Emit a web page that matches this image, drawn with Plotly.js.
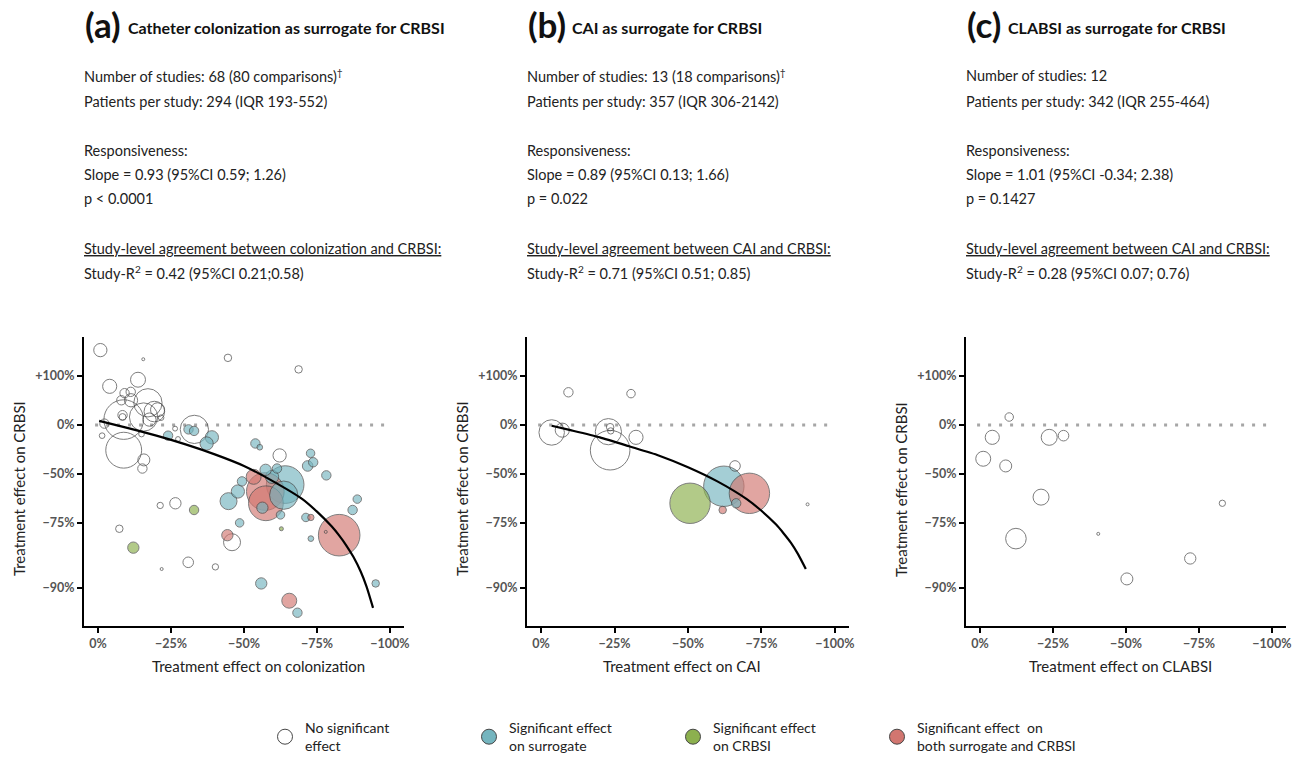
<!DOCTYPE html>
<html>
<head>
<meta charset="utf-8">
<script src="https://cdn.plot.ly/plotly-3.0.1.min.js"></script>
<style>html,body{margin:0;padding:0;background:#fff;overflow:hidden;}#chart{width:1304px;height:757px;}</style>
</head>
<body>
<div id="chart"></div>
<script>
// ---------- DATA ----------
// effect on surrogate (%), effect on CRBSI (%), relative study weight, significance group
// groups: 0 = no significant effect, 1 = significant on surrogate, 2 = significant on CRBSI, 3 = both
const aX = [-0.8,-15.5,-44.5,-68.7,-4,-13.7,-9.1,-11.2,-8,-11.3,-17.1,-8.8,-8.4,-8.4,-15.6,-19.3,-20.4,-17.6,-21.6,-2.2,-1.4,-14.9,-8.8,-15.7,-15.2,-26.4,-27.4,-33,-31,-32.9,-24,-39,-37.2,-53.9,-55.4,-62.2,-72.8,-73.7,-71.8,-78.2,-57.4,-61.3,-53.3,-59.6,-64.1,-63.6,-49.3,-47.9,-44.7,-57.3,-57.5,-56.3,-62.5,-71.2,-72.9,-48.5,-62.8,-72.9,-44.3,-45.9,-82.6,-78,-88.8,-87.2,-95.1,-21.3,-26.5,-32.9,-7.3,-12.1,-21.8,-30.9,-40.2,-55.9,-65.5,-68.3];
const aY = [189,154,159,120,73,90,57,60,42,42,37,8,15,12,12,21,24,8,11,2,-14,-12,-30,-39,-46,-5,-18,-6,-6,-8,-14,-16,-23,-23,-27,-35,-33,-41,-44,-51,-47,-46,-52,-52,-57,-63,-55,-61,-66,-61,-67,-69,-72,-73,-73,-75,-77,-80,-79,-81,-79,-78,-65,-70,-89.4,-68,-67,-70,-77,-82.4,-87,-85.7,-86.6,-89.4,-91.7,-93];
const aW = [22,1,7,7,25,28,11,11,11,22,100,196,11,6,100,53,25,22,4,11,4,4,161,18,11,3,3,100,11,11,11,22,22,11,4,22,9,11,14,11,16,11,28,22,177,100,11,22,36,177,151,16,9,9,5,9,2,4,16,36,216,0.7,9,11,7,5,16,11,7,16,0.7,14,5,16,28,11];
const aG = [0,0,0,0,0,0,0,0,0,0,0,0,0,0,0,0,0,0,0,0,0,0,0,0,0,0,0,0,1,1,1,1,1,1,1,0,1,1,1,1,1,1,3,1,1,1,1,1,1,3,3,1,1,1,3,1,2,1,3,0,3,0,1,1,1,0,0,2,0,2,0,0,0,1,3,1];

const bX = [-9.3,-30.6,-3.6,-7.2,-22.9,-23.5,-23.7,-23.5,-32.3,-66,-62.2,-70.9,-50.7,-66.4,-61.8,-90.7];
const bY = [59,56,-10,-7,-9,-3,-8,-30,-16,-44,-58,-62,-67,-67,-70,-67.5];
const bW = [11,9,81,25,86,7,5,196,25,14,204,204,204,11,7,0.7];
const bG = [0,0,0,0,0,0,0,0,0,0,1,3,2,1,3,0];

const cX = [-10,-4.2,-23.7,-28.6,-1.1,-8.8,-20.9,-12.3,-40.5,-50.3,-72,-83];
const cY = [12,-16,-16,-14,-38,-44,-64,-80,-78.6,-88.7,-84.9,-67];
const cW = [9,25,32,14,28,18,32,53,0.7,18,16,5];
const cG = [0,0,0,0,0,0,0,0,0,0,0,0];

// regression curves
const aCurveX = [-0.4,-10,-20,-30,-40,-50,-60,-70,-75,-80,-82.5,-85,-87.5,-90,-92,-94.2];
const aCurveY = [6,-4,-14,-24,-34,-44,-55,-65,-70.7,-76.2,-79,-81.8,-84.6,-87.5,-89.9,-92.5];
const bCurveX = [-3.6,-10,-20,-30,-40,-50,-60,-70,-75,-80,-82.5,-85,-87.5,-90.1];
const bCurveY = [-1,-7,-16,-26,-35,-45,-55,-65,-70.3,-75.6,-78.4,-81.1,-84,-87];

const xTickVals = [0,-25,-50,-75,-100];
const xTickText = ['0%','\u221225%','\u221250%','\u221275%','\u2212100%'];
const yTickVals = [100,0,-50,-75,-90];
const yTickText = ['+100%','0%','\u221250%','\u221275%','\u221290%'];

const groupNames = ['No significant<br>effect','Significant effect<br>on surrogate','Significant effect<br>on CRBSI','Significant effect  on<br>both surrogate and CRBSI'];

const panelLabels = ['(a)','(b)','(c)'];
const panelTitles = ['Catheter colonization as surrogate for CRBSI','CAI as surrogate for CRBSI','CLABSI as surrogate for CRBSI'];
const xTitles = ['Treatment effect on colonization','Treatment effect on CAI','Treatment effect on CLABSI'];
const yTitle = 'Treatment effect on CRBSI';
const textA = ['Number of studies: 68 (80 comparisons)<sup>\u2020</sup>','Patients per study: 294 (IQR 193-552)','Responsiveness:','Slope = 0.93 (95%CI 0.59; 1.26)','p &lt; 0.0001','<u>Study-level agreement between colonization and CRBSI:</u>','Study-R<sup>2</sup> = 0.42 (95%CI 0.21;0.58)'];
const textB = ['Number of studies: 13 (18 comparisons)<sup>\u2020</sup>','Patients per study: 357 (IQR 306-2142)','Responsiveness:','Slope = 0.89 (95%CI 0.13; 1.66)','p = 0.022','<u>Study-level agreement between CAI and CRBSI:</u>','Study-R<sup>2</sup> = 0.71 (95%CI 0.51; 0.85)'];
const textC = ['Number of studies: 12','Patients per study: 342 (IQR 255-464)','Responsiveness:','Slope = 1.01 (95%CI -0.34; 2.38)','p = 0.1427','<u>Study-level agreement between CAI and CRBSI:</u>','Study-R<sup>2</sup> = 0.28 (95%CI 0.07; 0.76)'];

// ---------- STYLE ----------
const FONT = 'Lato, "Open Sans", sans-serif';
const W = 1304, H = 757;
const fillCol = ['rgba(255,255,255,0)','rgba(116,181,191,0.93)','rgba(140,176,78,0.95)','rgba(210,118,112,0.93)'];
const legendFill = ['#ffffff','#74b5bf','#8cb04e','#d27670'];
const lineCol = '#474747';
const panelLeft = [84, 527, 966];
const panelRight = [404, 849, 1286];
const plotTop = 337, plotBottom = 626;

const toRatio = v => 1 + v/100;

function bubbleTrace(X, Y, Wt, G, idx) {
  const order = Wt.map((w,i)=>i).sort((p,q)=>Wt[q]-Wt[p]);
  const s = idx===0 ? '' : String(idx+1);
  return {
    type:'scatter', mode:'markers', xaxis:'x'+s, yaxis:'y'+s, showlegend:false, hoverinfo:'x+y',
    x: order.map(i=>X[i]), y: order.map(i=>toRatio(Y[i])),
    marker:{
      size: order.map(i=>Wt[i]), sizemode:'area', sizeref:0.25, sizemin:1.5,
      color: order.map(i=>fillCol[G[i]]),
      line:{color:lineCol, width:1}
    }
  };
}
function refLine(idx) {
  const s = idx===0 ? '' : String(idx+1);
  return {type:'scatter', mode:'lines', xaxis:'x'+s, yaxis:'y'+s, showlegend:false, hoverinfo:'skip',
    x:[1,-100], y:[1,1], line:{color:'#a6a6a6', width:3, dash:'3px,8px'}};
}
function curve(X, Y, idx) {
  const s = idx===0 ? '' : String(idx+1);
  return {type:'scatter', mode:'lines', xaxis:'x'+s, yaxis:'y'+s, showlegend:false, hoverinfo:'skip',
    x:X, y:Y.map(toRatio), line:{color:'#000', width:2.2, shape:'spline', smoothing:0.6}};
}

const traces = [
  refLine(0), refLine(1), refLine(2),
  bubbleTrace(aX,aY,aW,aG,0), bubbleTrace(bX,bY,bW,bG,1), bubbleTrace(cX,cY,cW,cG,2),
  curve(aCurveX,aCurveY,0), curve(bCurveX,bCurveY,1)
];
// legend entries
groupNames.forEach((nm,g)=>{
  traces.push({type:'scatter', mode:'markers', x:[null], y:[null], name:nm, showlegend:true, hoverinfo:'skip',
    marker:{size:15, color:legendFill[g], line:{color:lineCol, width:1}}});
});

const layout = {
  width:W, height:H, margin:{l:0,r:0,t:0,b:0,pad:0,autoexpand:false},
  paper_bgcolor:'#fff', plot_bgcolor:'rgba(0,0,0,0)',
  font:{family:FONT, size:14, color:'#222'},
  showlegend:true,
  legend:{orientation:'h', x:265/W, xanchor:'left', y:(H-737)/H, yanchor:'middle',
    font:{family:FONT, size:14, color:'#222'}, entrywidth:159, entrywidthmode:'pixels',
    itemsizing:'trace', traceorder:'normal', bgcolor:'rgba(0,0,0,0)'},
  annotations:[], hovermode:'closest'
};

const yLogRange = [Math.log10(0.058), Math.log10(3.48)];
for (let p=0; p<3; p++) {
  const s = p===0 ? '' : String(p+1);
  layout['xaxis'+s] = {
    domain:[panelLeft[p]/W, panelRight[p]/W], anchor:'y'+s, range:[4.8,-104.8], fixedrange:true,
    showgrid:false, zeroline:false, showline:true, linecolor:'#000', linewidth:2,
    ticks:'outside', ticklen:5, tickwidth:2, tickcolor:'#000', automargin:false,
    tickvals:xTickVals, ticktext:xTickText,
    tickfont:{family:FONT, size:12.5, color:'#555', weight:'bold'}
  };
  layout['yaxis'+s] = {
    domain:[(H-plotBottom)/H, (H-plotTop)/H], anchor:'x'+s, type:'log', range:yLogRange, fixedrange:true,
    showgrid:false, zeroline:false, showline:true, linecolor:'#000', linewidth:2,
    ticks:'outside', ticklen:5, tickwidth:2, tickcolor:'#000', automargin:false,
    tickvals:yTickVals.map(toRatio), ticktext:yTickText,
    tickfont:{family:FONT, size:12.5, color:'#555', weight:'bold'}
  };
}

// text annotations
const A = layout.annotations;
const textLeft = [82, 525, 964];
const titleLeft = [126, 570, 1006];
const lineY = [75, 101, 150, 174, 198, 248, 272];
const yTitleX = [19, 462, 901];
const xTitleX = [258, 682, 1120];
const texts = [textA, textB, textC];
for (let p=0; p<3; p++) {
  A.push({xref:'paper', yref:'paper', x:(textLeft[p]+1)/W, y:(H-24)/H, xanchor:'left', yanchor:'middle', showarrow:false,
    text:'<b>'+panelLabels[p]+'</b>', font:{family:FONT, size:35, color:'#111'}});
  A.push({xref:'paper', yref:'paper', x:titleLeft[p]/W, y:(H-28)/H, xanchor:'left', yanchor:'middle', showarrow:false,
    text:'<b>'+panelTitles[p]+'</b>', font:{family:FONT, size:16, color:'#111'}});
  texts[p].forEach((t,i)=>{
    A.push({xref:'paper', yref:'paper', x:textLeft[p]/W, y:(H-lineY[i])/H, xanchor:'left', yanchor:'middle', showarrow:false,
      text:t, font:{family:FONT, size:14.5, color:'#222'}});
  });
  A.push({xref:'paper', yref:'paper', x:yTitleX[p]/W, y:(H-489)/H, xanchor:'center', yanchor:'middle', showarrow:false,
    textangle:-90, text:yTitle, font:{family:FONT, size:15, color:'#222'}});
  A.push({xref:'paper', yref:'paper', x:xTitleX[p]/W, y:(H-666)/H, xanchor:'center', yanchor:'middle', showarrow:false,
    text:xTitles[p], font:{family:FONT, size:15, color:'#222'}});
}

Plotly.newPlot('chart', traces, layout, {staticPlot:true, displayModeBar:false});
</script>
</body>
</html>
